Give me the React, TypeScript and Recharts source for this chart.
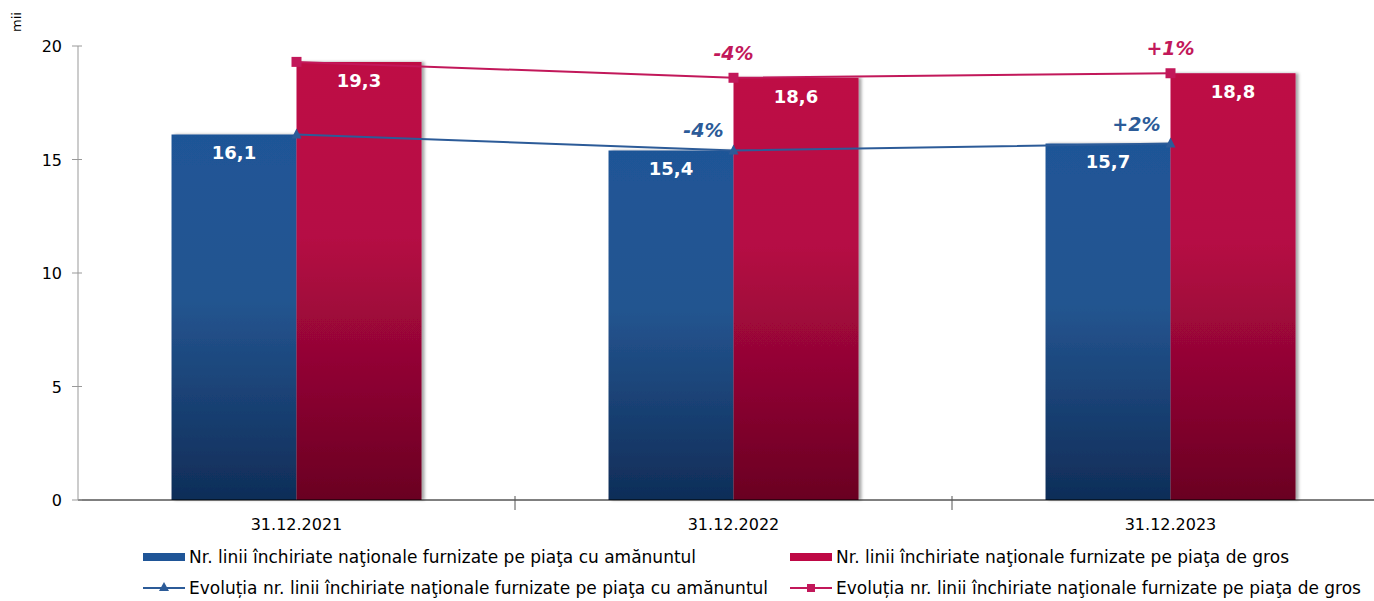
import React from 'react'
import { ComposedChart, Bar, Line, XAxis, YAxis, LabelList } from 'recharts'

const categories = ['31.12.2021', '31.12.2022', '31.12.2023']
const retailValues = [16.1, 15.4, 15.7]
const wholesaleValues = [19.3, 18.6, 18.8]
const retailChange = ['', '-4%', '+2%']
const wholesaleChange = ['', '-4%', '+1%']
const yTicks = [0, 5, 10, 15, 20]

const seriesNames = {
  retail: 'Nr. linii închiriate naţionale furnizate pe piaţa cu amănuntul',
  wholesale: 'Nr. linii închiriate naţionale furnizate pe piaţa de gros',
  retailLine: 'Evoluția nr. linii închiriate naţionale furnizate pe piaţa cu amănuntul',
  wholesaleLine: 'Evoluția nr. linii închiriate naţionale furnizate pe piaţa de gros',
}

const data = categories.map((cat, i) => ({
  cat,
  retail: retailValues[i],
  wholesale: wholesaleValues[i],
}))

const FONT = '"DejaVu Sans", Tahoma, sans-serif'
const BLUE = '#1f5597'
const RED = '#be0845'
const BLUE_LINE = '#2c5b98'
const RED_LINE = '#c2185a'

const fmt = (v: any) => String(v).replace('.', ',')

function CatTick(props: any) {
  const { x, y, payload, index } = props
  const half = payload?.offset ?? 0
  return (
    <g>
      <text x={x} y={y + 22} textAnchor="middle" fontSize={16} fill="#000" fontFamily={FONT}>
        {payload.value}
      </text>
      {index < categories.length - 1 && (
        <line x1={x + half} x2={x + half} y1={y - 12} y2={y + 2} stroke="#555" />
      )}
    </g>
  )
}

function ValTick(props: any) {
  const { x, y, payload } = props
  return (
    <g>
      <text x={x} y={y} dy={6} textAnchor="end" fontSize={16} fill="#000" fontFamily={FONT}>
        {payload.value}
      </text>
      <line x1={x + 10} x2={x + 20} y1={y} y2={y} stroke="#999" />
    </g>
  )
}

function changeLabel(list: string[], color: string, side: 'left' | 'center') {
  return (props: any) => {
    const { x, y, index } = props
    const t = list[index]
    if (!t) return null
    return (
      <text
        x={side === 'left' ? x - 10 : x}
        y={side === 'left' ? y - 13 : y - 18}
        textAnchor={side === 'left' ? 'end' : 'middle'}
        fontSize={19}
        fontWeight="bold"
        fontStyle="italic"
        fill={color}
        fontFamily={FONT}
      >
        {t}
      </text>
    )
  }
}

function LegendItem({ kind, color, label }: { kind: 'bar' | 'tri' | 'sq'; color: string; label: string }) {
  return (
    <div style={{ display: 'flex', alignItems: 'center', height: 22 }}>
      <svg width={44} height={14} style={{ marginRight: 2 }}>
        {kind === 'bar' && <rect x={0} y={3} width={42} height={8} fill={color} />}
        {kind !== 'bar' && <line x1={0} x2={42} y1={7} y2={7} stroke={color} strokeWidth={2} />}
        {kind === 'tri' && <polygon points="21,1 26,10 16,10" fill={color} />}
        {kind === 'sq' && <rect x={17} y={3} width={8} height={8} fill={color} />}
      </svg>
      <span style={{ fontSize: 17, fontFamily: FONT, color: '#000', whiteSpace: 'nowrap' }}>{label}</span>
    </div>
  )
}

export default function App() {
  return (
    <div style={{ position: 'absolute', left: 0, top: 0, width: 1374, height: 601, overflow: 'hidden', background: '#fff' }}>
      <div
        style={{
          position: 'absolute', left: 9, top: 10, fontSize: 13, fontFamily: FONT,
          transform: 'rotate(-90deg)', transformOrigin: 'left top', marginTop: 22,
        }}
      >
        mii
      </div>
      <ComposedChart
        width={1400}
        height={601}
        data={data}
        margin={{ top: 46, right: 11, bottom: 0, left: 0 }}
        barCategoryGap="21.4%"
        barGap={0}
      >
        <defs>
          <linearGradient id="gBlue" x1="0" y1="0" x2="0" y2="1">
            <stop offset="0%" stopColor={BLUE} />
            <stop offset="45%" stopColor="#245590" />
            <stop offset="100%" stopColor="#0f2d58" />
          </linearGradient>
          <linearGradient id="gRed" x1="0" y1="0" x2="0" y2="1">
            <stop offset="0%" stopColor={RED} />
            <stop offset="40%" stopColor="#b50a44" />
            <stop offset="100%" stopColor="#6a0022" />
          </linearGradient>
          <filter id="shadow" x="-5%" y="-5%" width="115%" height="110%">
            <feDropShadow dx={3} dy={0} stdDeviation={1.5} floodColor="#000" floodOpacity={0.35} />
          </filter>
        </defs>
        <XAxis
          dataKey="cat"
          xAxisId="cat"
          height={101}
          axisLine={{ stroke: '#000' }}
          tickLine={false}
          tick={<CatTick />}
          interval={0}
        />
        <XAxis dataKey="cat" xAxisId="pt" hide />
        <YAxis
          domain={[0, 20]}
          ticks={yTicks}
          width={78}
          axisLine={{ stroke: '#999' }}
          tickLine={false}
          tickSize={6}
          tickMargin={10}
          tick={<ValTick />}
        />
        <Bar dataKey="retail" xAxisId="cat" fill="url(#gBlue)" filter="url(#shadow)" isAnimationActive={false}>
          <LabelList dataKey="retail" position="insideTop" offset={12} formatter={fmt} fill="#fff" fontSize={18} fontWeight="bold" fontFamily={FONT} />
        </Bar>
        <Bar dataKey="wholesale" xAxisId="cat" fill="url(#gRed)" filter="url(#shadow)" isAnimationActive={false}>
          <LabelList dataKey="wholesale" position="insideTop" offset={12} formatter={fmt} fill="#fff" fontSize={18} fontWeight="bold" fontFamily={FONT} />
        </Bar>
        <Line
          dataKey="retail"
          xAxisId="pt"
          stroke={BLUE_LINE}
          strokeWidth={2}
          isAnimationActive={false}
          dot={(p: any) => (
            <polygon key={p.index} points={`${p.cx},${p.cy - 6} ${p.cx + 5},${p.cy + 4} ${p.cx - 5},${p.cy + 4}`} fill={BLUE_LINE} />
          )}
          activeDot={false}
          label={changeLabel(retailChange, BLUE_LINE, 'left')}
        />
        <Line
          dataKey="wholesale"
          xAxisId="pt"
          stroke={RED_LINE}
          strokeWidth={2}
          isAnimationActive={false}
          dot={(p: any) => <rect key={p.index} x={p.cx - 5} y={p.cy - 5} width={10} height={10} fill={RED_LINE} />}
          activeDot={false}
          label={changeLabel(wholesaleChange, RED_LINE, 'center')}
        />
      </ComposedChart>
      <div style={{ position: 'absolute', left: 143, top: 546 }}>
        <LegendItem kind="bar" color={BLUE} label={seriesNames.retail} />
        <div style={{ height: 9 }} />
        <LegendItem kind="tri" color={BLUE_LINE} label={seriesNames.retailLine} />
      </div>
      <div style={{ position: 'absolute', left: 790, top: 546 }}>
        <LegendItem kind="bar" color={RED} label={seriesNames.wholesale} />
        <div style={{ height: 9 }} />
        <LegendItem kind="sq" color={RED_LINE} label={seriesNames.wholesaleLine} />
      </div>
    </div>
  )
}
